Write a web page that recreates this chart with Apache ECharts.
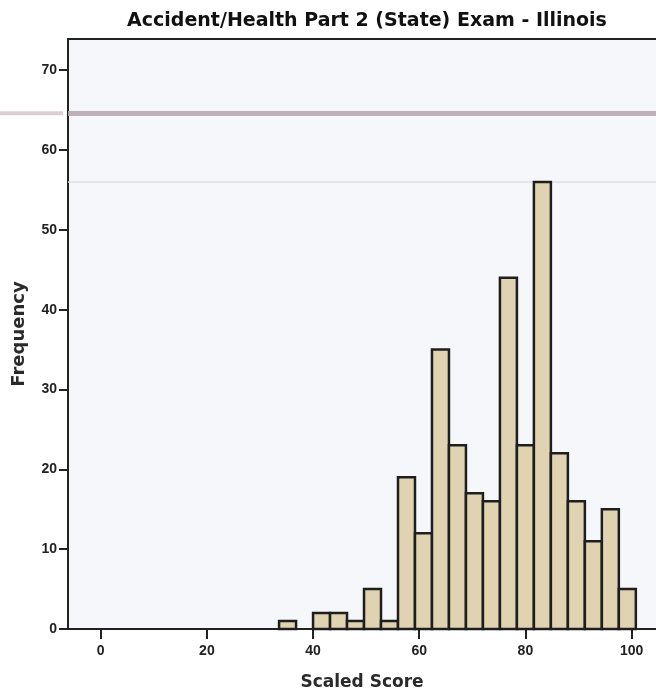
<!DOCTYPE html>
<html>
<head>
<meta charset="utf-8">
<script src="https://cdn.jsdelivr.net/npm/echarts@6/dist/echarts.min.js"></script>
<style>html,body{margin:0;padding:0;background:#fff}#c{width:656px;height:696px}</style>
</head>
<body>
<div id="c"></div>
<script>
// Histogram bins (lower edges) and frequencies
const binStarts = [33.6, 40.0, 43.2, 46.4, 49.6, 52.8, 56.0, 59.2, 62.4, 65.6, 68.8, 72.0, 75.2, 78.4, 81.6, 84.8, 88.0, 91.2, 94.4, 97.6];
const counts    = [1,    2,    2,    1,    5,    1,    19,   12,   35,   23,   17,   16,   44,   23,   56,   22,   16,   11,   15,   5];
const BIN_WIDTH = 3.2;
const xTickValues = [0, 20, 40, 60, 80, 100];
const yTickValues = [0, 10, 20, 30, 40, 50, 60, 70];
const refLines = [64.6, 56.0];

const data = binStarts.map((s, i) => [s, +(s + BIN_WIDTH).toFixed(2), counts[i]]);

const chart = echarts.init(document.getElementById('c'), null, {renderer: 'canvas'});
const FONT = "'Liberation Sans', Arial, sans-serif";
const BOLD_FONT = "'DejaVu Sans', 'Liberation Sans', sans-serif";

chart.setOption({
  animation: false,
  backgroundColor: '#ffffff',
  title: {
    text: 'Accident/Health Part 2 (State) Exam - Illinois',
    left: 362, top: 7, textAlign: 'center',
    textStyle: {fontFamily: BOLD_FONT, fontSize: 19, fontWeight: 'bold', color: '#111'}
  },
  grid: {
    left: 68, right: 0, top: 39, bottom: 67,
    show: true, backgroundColor: '#f5f7fb', borderWidth: 0
  },
  xAxis: [{
    type: 'value', min: -6.16, max: 104.6,
    name: 'Scaled Score', nameLocation: 'middle', nameGap: 45,
    nameTextStyle: {fontFamily: BOLD_FONT, fontSize: 17, fontWeight: 'bold', color: '#2a2a2a'},
    axisLine: {show: true, onZero: false, lineStyle: {color: '#222', width: 2}},
    axisTick: {show: true, length: 10, customValues: xTickValues, lineStyle: {color: '#222', width: 2}},
    axisLabel: {customValues: xTickValues, margin: 15, fontFamily: FONT, fontSize: 14, fontWeight: 'bold', color: '#222'},
    splitLine: {show: false}
  }, {
    type: 'value', position: 'top', min: -6.16, max: 104.6,
    axisLine: {show: true, onZero: false, lineStyle: {color: '#222', width: 2}},
    axisTick: {show: false}, axisLabel: {show: false}, splitLine: {show: false}
  }],
  yAxis: {
    type: 'value', min: 0, max: 73.9,
    name: 'Frequency', nameLocation: 'middle', nameGap: 40,
    nameTextStyle: {fontFamily: BOLD_FONT, fontSize: 18, fontWeight: 'bold', color: '#2a2a2a'},
    axisLine: {show: true, onZero: false, lineStyle: {color: '#222', width: 2}},
    axisTick: {show: true, length: 9, customValues: yTickValues, lineStyle: {color: '#222', width: 2}},
    axisLabel: {customValues: yTickValues, margin: 11, fontFamily: FONT, fontSize: 14, fontWeight: 'bold', color: '#222'},
    splitLine: {show: false}
  },
  series: [{
    type: 'line', data: [], silent: true, z: 1,
    markLine: {
      symbol: 'none', silent: true, label: {show: false}, z: 1,
      data: [
        {yAxis: refLines[0], lineStyle: {color: '#b8a7b1', width: 5, type: 'solid', opacity: 0.9}},
        {yAxis: refLines[1], lineStyle: {color: '#dcdfe4', width: 1.5, type: 'solid'}}
      ]
    }
  }, {
    type: 'custom', z: 5,
    data: data,
    encode: {x: [0, 1], y: 2},
    renderItem: function (params, api) {
      const p0 = api.coord([api.value(0), api.value(2)]);
      const p1 = api.coord([api.value(1), 0]);
      return {
        type: 'rect',
        shape: {x: p0[0], y: p0[1], width: p1[0] - p0[0], height: p1[1] - p0[1]},
        style: {fill: '#dfd3b2', stroke: '#1e1e1e', lineWidth: 2.5}
      };
    }
  }]
});

// faint extension of the scan line outside the plot area, placed via the axis scale
const yPix = chart.convertToPixel({yAxisIndex: 0}, refLines[0]);
const xLeft = chart.convertToPixel({xAxisIndex: 0}, -6.16);
chart.setOption({
  graphic: [{
    type: 'line', silent: true,
    shape: {x1: 0, y1: yPix, x2: xLeft - 5, y2: yPix},
    style: {stroke: '#dccfd3', lineWidth: 4}
  }]
});
</script>
</body>
</html>
